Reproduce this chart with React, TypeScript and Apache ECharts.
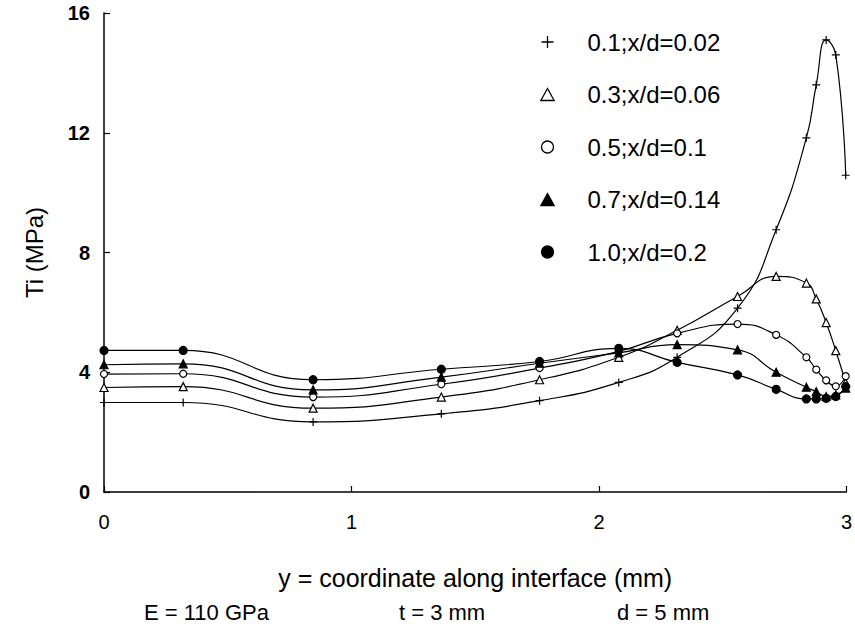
import React, { useEffect, useRef } from "react";
import * as echarts from "echarts";

const X_VALUES = [0, 0.32, 0.845, 1.363, 1.76, 2.08, 2.316, 2.56, 2.716, 2.838, 2.878, 2.918, 2.957, 2.997];

const SERIES_NAMES = ["0.1;x/d=0.02", "0.3;x/d=0.06", "0.5;x/d=0.1", "0.7;x/d=0.14", "1.0;x/d=0.2"];

const S_01 = [2.99, 2.99, 2.34, 2.61, 3.05, 3.66, 4.5, 6.14, 8.76, 11.83, 13.6, 15.1, 14.6, 10.58];
const S_03 = [3.49, 3.52, 2.8, 3.17, 3.75, 4.5, 5.4, 6.53, 7.2, 6.98, 6.45, 5.66, 4.72, 3.65];
const S_05 = [3.94, 3.95, 3.17, 3.6, 4.14, 4.7, 5.3, 5.61, 5.25, 4.5, 4.09, 3.73, 3.53, 3.87];
const S_07 = [4.25, 4.28, 3.41, 3.84, 4.3, 4.65, 4.92, 4.75, 4.0, 3.5, 3.35, 3.19, 3.24, 3.47];
const S_10 = [4.73, 4.73, 3.75, 4.1, 4.36, 4.8, 4.33, 3.91, 3.43, 3.11, 3.11, 3.13, 3.19, 3.52];

const X_TICKS = [0, 1, 2, 3];
const Y_TICKS = [0, 4, 8, 12, 16];

const FOOTNOTES = ["E = 110 GPa", "t = 3 mm", "d = 5 mm"];

const FONT = "'Liberation Sans', Arial, Helvetica, sans-serif";

const PLUS = "path://M0,5L10,5M5,0L5,10";
const TRI = "path://M5,0L10,9L0,9Z";
const CIRC = "path://M0,5A5,5,0,1,1,10,5A5,5,0,1,1,0,5Z";

const STYLES = [
  { symbol: PLUS, legendIcon: PLUS, fill: "none", size: 8 },
  { symbol: "triangle", legendIcon: TRI, fill: "#fff", size: 8 },
  { symbol: "circle", legendIcon: CIRC, fill: "#fff", size: 7 },
  { symbol: "triangle", legendIcon: TRI, fill: "#000", size: 8 },
  { symbol: "circle", legendIcon: CIRC, fill: "#000", size: 8 },
];

const ALL = [S_01, S_03, S_05, S_07, S_10];

export default function App() {
  const ref = useRef<HTMLDivElement>(null);
  useEffect(() => {
    if (!ref.current) return;
    const chart = echarts.init(ref.current, null, { renderer: "svg" });
    const series = ALL.map((vals, i) => ({
      name: SERIES_NAMES[i],
      type: "line",
      smooth: 0.5,
      data: vals.map((v, j) => [X_VALUES[j], v]),
      symbol: STYLES[i].symbol,
      symbolSize: STYLES[i].size,
      showAllSymbol: true,
      itemStyle: { color: STYLES[i].fill, borderColor: "#000", borderWidth: 1.2 },
      lineStyle: { color: "#000", width: 1.2 },
      emphasis: { disabled: true },
      z: 2 + i,
    }));
    chart.setOption({
      animation: false,
      backgroundColor: "#fff",
      textStyle: { fontFamily: FONT, color: "#000" },
      grid: { left: 104, right: 5, top: 13, bottom: 137, containLabel: false },
      legend: {
        orient: "vertical",
        left: 534,
        top: 25,
        itemWidth: 70,
        itemHeight: 12,
        symbolKeepAspect: true,
        itemGap: 28.5,
        selectedMode: false,
        textStyle: { fontSize: 24, color: "#000", fontFamily: FONT },
        data: SERIES_NAMES.map((n, i) => ({
          name: n,
          icon: STYLES[i].legendIcon,
          itemStyle: { color: STYLES[i].fill, borderColor: "#000", borderWidth: 1.3 },
        })),
      },
      xAxis: {
        type: "value",
        min: X_TICKS[0],
        max: X_TICKS[X_TICKS.length - 1],
        interval: 1,
        name: "y = coordinate along interface (mm)",
        nameLocation: "middle",
        nameGap: 73,
        nameTextStyle: { fontSize: 25, color: "#000", fontFamily: FONT },
        axisLine: { lineStyle: { color: "#000", width: 1.5 } },
        axisTick: { inside: true, length: 6, lineStyle: { color: "#000", width: 1.2 } },
        axisLabel: { margin: 20, fontSize: 20, color: "#000", fontFamily: FONT },
        splitLine: { show: false },
      },
      yAxis: {
        type: "value",
        min: Y_TICKS[0],
        max: Y_TICKS[Y_TICKS.length - 1],
        interval: 4,
        name: "Ti (MPa)",
        nameLocation: "middle",
        nameGap: 58,
        nameTextStyle: { fontSize: 24, color: "#000000", fontFamily: FONT },
        axisLine: { show: true, lineStyle: { color: "#000", width: 1.5 } },
        axisTick: { show: true, inside: true, length: 6, lineStyle: { color: "#000", width: 1.2 } },
        axisLabel: { margin: 14, fontSize: 20, fontWeight: "bold", color: "#000", fontFamily: FONT },
        splitLine: { show: false },
      },
      graphic: [
        { type: "text", x: 144, y: 612, style: { text: FOOTNOTES[0], fontSize: 22, fill: "#000", fontFamily: FONT, verticalAlign: "middle" } },
        { type: "text", x: 399, y: 612, style: { text: FOOTNOTES[1], fontSize: 22, fill: "#000", fontFamily: FONT, verticalAlign: "middle" } },
        { type: "text", x: 617, y: 612, style: { text: FOOTNOTES[2], fontSize: 22, fill: "#000", fontFamily: FONT, verticalAlign: "middle" } },
      ],
      series,
    });
    return () => chart.dispose();
  }, []);
  return <div ref={ref} style={{ width: 855, height: 629, position: "absolute", left: 0, top: 0 }} />;
}
